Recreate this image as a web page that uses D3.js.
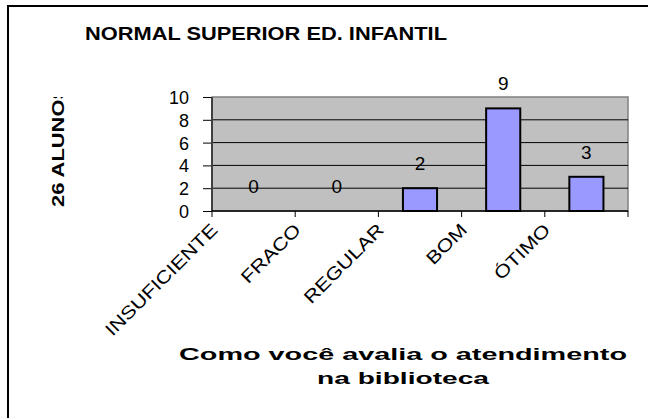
<!DOCTYPE html>
<html>
<head>
<meta charset="utf-8">
<script src="https://cdn.jsdelivr.net/npm/d3@7"></script>
<style>
  body { margin: 0; background: #fff; }
  svg { display: block; font-family: "Liberation Sans", Arial, sans-serif; }
</style>
</head>
<body>
<svg id="chart" width="648" height="418"></svg>
<script>
var categories = ["INSUFICIENTE", "FRACO", "REGULAR", "BOM", "ÓTIMO"];
var values = [0, 0, 2, 9, 3];
var yTicks = [0, 2, 4, 6, 8, 10];
var chartTitle = "NORMAL SUPERIOR ED. INFANTIL";
var yTitle = "26 ALUNOS";
var xTitle = ["Como você avalia o atendimento", "na biblioteca"];

var svg = d3.select("#chart"),
    pLeft = 212, pRight = 628, pTop = 97, pBottom = 211;

var x = d3.scaleBand().domain(categories).range([pLeft, pRight])
          .paddingInner(0.59).paddingOuter(0.295);
var y = d3.scaleLinear().domain([0, 10]).range([pBottom, pTop]);
var bw = x.bandwidth(), gap = (x.step() - bw) / 2;

// outer frame (only top/left visible)
svg.append("rect")
   .attr("x", 8).attr("y", 6).attr("width", 700).attr("height", 500)
   .attr("fill", "none").attr("stroke", "#000").attr("stroke-width", 2);

var defs = svg.append("defs");
defs.append("clipPath").attr("id", "xlabClip")
    .append("rect").attr("x", 0).attr("y", 221).attr("width", 648).attr("height", 200);
defs.append("clipPath").attr("id", "ytClip")
    .append("rect").attr("x", 0).attr("y", 97).attr("width", 120).attr("height", 200);

// title
svg.append("text")
   .attr("x", 266).attr("y", 40)
   .attr("text-anchor", "middle")
   .attr("font-size", "19px").attr("font-weight", "bold")
   .attr("textLength", 362).attr("lengthAdjust", "spacingAndGlyphs")
   .text(chartTitle);

// plot area
svg.append("rect")
   .attr("x", pLeft).attr("y", pTop).attr("width", pRight - pLeft).attr("height", pBottom - pTop)
   .attr("fill", "#c0c0c0").attr("stroke", "#808080").attr("stroke-width", 1.5);

// gridlines
svg.append("g").selectAll("line")
   .data(yTicks.filter(function(d) { return d > 0 && d < 10; }))
   .enter().append("line")
   .attr("x1", pLeft).attr("x2", pRight)
   .attr("y1", function(d) { return y(d); }).attr("y2", function(d) { return y(d); })
   .attr("stroke", "#000").attr("stroke-width", 1);

// y axis
var yAxis = svg.append("g")
   .attr("transform", "translate(" + pLeft + ",0)")
   .call(d3.axisLeft(y).tickValues(yTicks).tickSize(9).tickPadding(14));
yAxis.select(".domain").remove();
yAxis.selectAll(".tick line").attr("stroke", "#000");
yAxis.selectAll(".tick text")
   .attr("font-size", "18px").attr("fill", "#000")
   .attr("font-family", "Liberation Sans, Arial, sans-serif")
   .attr("dy", "0.36em");
svg.append("line")
   .attr("x1", pLeft).attr("x2", pLeft).attr("y1", pTop).attr("y2", pBottom)
   .attr("stroke", "#404040").attr("stroke-width", 2);

// bars
svg.append("g").selectAll("rect")
   .data(values)
   .enter().append("rect")
   .attr("x", function(d, i) { return x(categories[i]); })
   .attr("y", function(d) { return y(d); })
   .attr("width", bw)
   .attr("height", function(d) { return pBottom - y(d); })
   .attr("fill", "#9999ff").attr("stroke", "#000").attr("stroke-width", 2);

// x axis
svg.append("line")
   .attr("x1", pLeft).attr("x2", pRight).attr("y1", pBottom).attr("y2", pBottom)
   .attr("stroke", "#000").attr("stroke-width", 1.5);
var bounds = categories.map(function(c) { return x(c) - gap; }).concat([pRight]);
svg.append("g").selectAll("line")
   .data(bounds)
   .enter().append("line")
   .attr("x1", function(d) { return d; }).attr("x2", function(d) { return d; })
   .attr("y1", pBottom).attr("y2", pBottom + 6)
   .attr("stroke", "#000");

// data labels
svg.append("g").selectAll("text")
   .data(values)
   .enter().append("text")
   .attr("x", function(d, i) { return x(categories[i]) + bw / 2; })
   .attr("y", function(d) { return y(d) - 18; })
   .attr("text-anchor", "middle")
   .attr("font-size", "19px")
   .text(function(d) { return d; });

// category labels
svg.append("g").attr("clip-path", "url(#xlabClip)")
   .selectAll("text")
   .data(categories)
   .enter().append("text")
   .attr("transform", function(d) {
     return "translate(" + (x(d) + bw / 2 - 35) + ",231) rotate(-45) scale(1.2,1)";
   })
   .attr("text-anchor", "end")
   .attr("font-size", "18px")
   .text(function(d) { return d; });

// y title
svg.append("g").attr("clip-path", "url(#ytClip)")
   .append("text")
   .attr("transform", "translate(64,207) rotate(-90)")
   .attr("font-size", "16px").attr("font-weight", "bold")
   .attr("textLength", 122).attr("lengthAdjust", "spacingAndGlyphs")
   .text(yTitle);

// x title
svg.append("g").selectAll("text")
   .data(xTitle)
   .enter().append("text")
   .attr("x", 403)
   .attr("y", function(d, i) { return 360 + i * 24; })
   .attr("text-anchor", "middle")
   .attr("font-size", "17px").attr("font-weight", "bold")
   .attr("textLength", function(d, i) { return i === 0 ? 448 : 172; })
   .attr("lengthAdjust", "spacingAndGlyphs")
   .text(function(d) { return d; });
</script>
</body>
</html>
